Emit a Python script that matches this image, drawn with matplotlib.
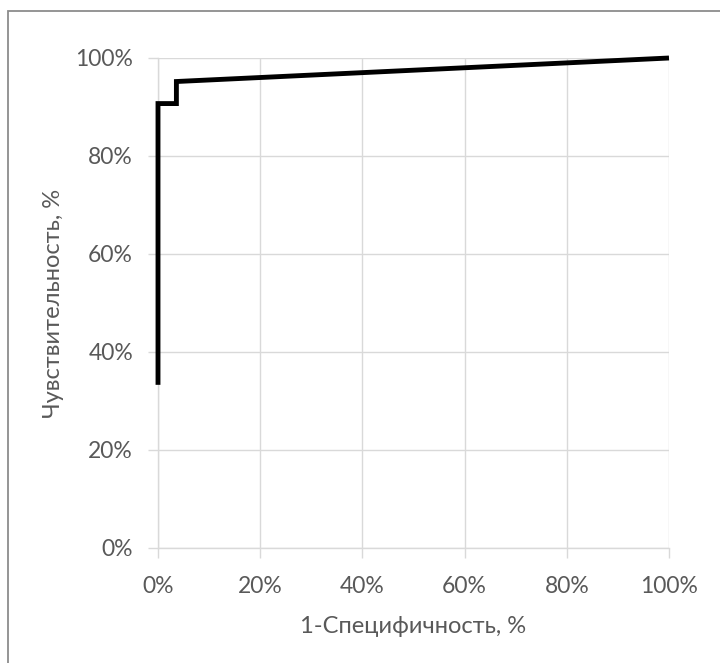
import matplotlib.pyplot as plt
from matplotlib.patches import Rectangle
from matplotlib.ticker import PercentFormatter

# ROC curve points (1 - specificity, sensitivity), in percent
fpr = [0.0, 0.0, 3.6, 3.6, 100.0]
tpr = [33.3, 90.7, 90.7, 95.2, 100.0]

x_ticks = [0, 20, 40, 60, 80, 100]
y_ticks = [0, 20, 40, 60, 80, 100]

plt.rcParams['font.family'] = ['Lato', 'DejaVu Sans']
text_color = '#595959'
grid_color = '#d9d9d9'

fig = plt.figure(figsize=(7.2, 6.63), dpi=100)
ax = fig.add_axes([158 / 720, 1 - 548 / 663, 511 / 720, 490 / 663])

# chart frame (only the left and top edges are in view)
fig.patches.append(Rectangle((8 / 720, -0.1), 1.2, 1 - 11 / 663 + 0.1,
                             transform=fig.transFigure, fill=False,
                             edgecolor='#8c8c8c', linewidth=1.3))

ax.plot(fpr, tpr, color='black', linewidth=3.5, solid_joinstyle='miter',
        solid_capstyle='butt', clip_on=False, zorder=3)

ax.set_xlim(0, 100)
ax.set_ylim(0, 100)
ax.set_xticks(x_ticks)
ax.set_yticks(y_ticks)
ax.xaxis.set_major_formatter(PercentFormatter(decimals=0))
ax.yaxis.set_major_formatter(PercentFormatter(decimals=0))
ax.grid(True, color=grid_color, linewidth=1)
ax.set_axisbelow(True)

for side in ['top', 'right']:
    ax.spines[side].set_visible(False)
for side in ['left', 'bottom']:
    ax.spines[side].set_color(grid_color)
    ax.spines[side].set_linewidth(1)

ax.tick_params(axis='both', length=7, width=1, color=grid_color,
               labelsize=16.5, labelcolor=text_color)
ax.tick_params(axis='y', pad=11)
ax.tick_params(axis='x', pad=13)

ax.set_xlabel('1-Специфичность, %', fontsize=17, color=text_color, labelpad=14)
ax.set_ylabel('Чувствительность, %', fontsize=17, color=text_color, labelpad=8)

fig.savefig('out.png', dpi=100)
